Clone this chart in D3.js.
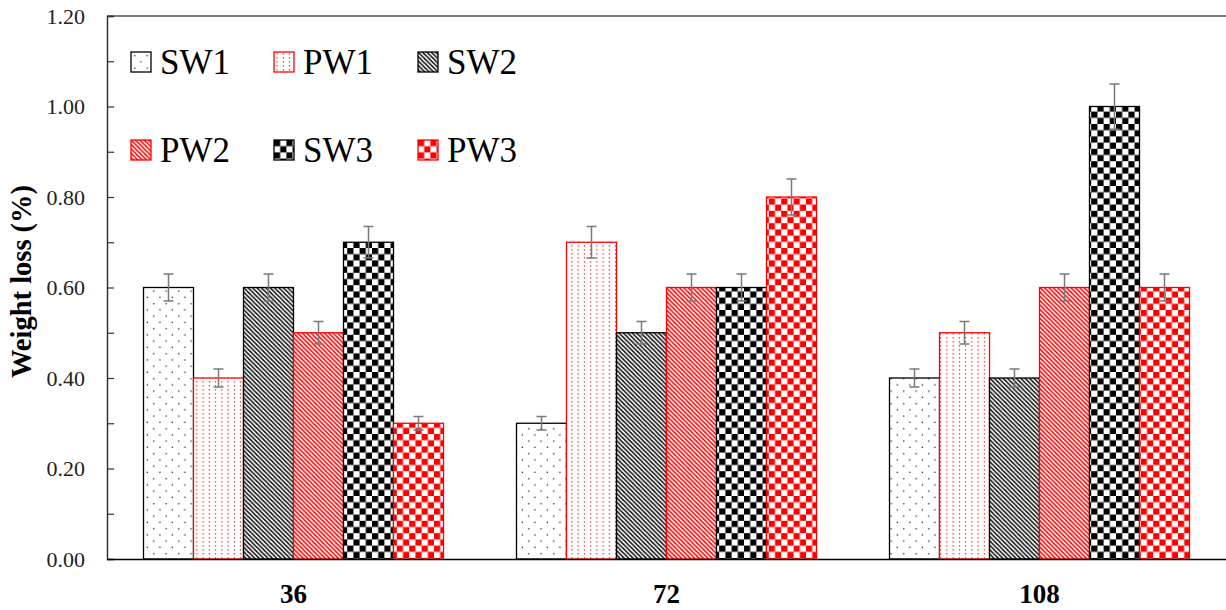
<!DOCTYPE html>
<html>
<head>
<meta charset="utf-8">
<script src="https://cdn.jsdelivr.net/npm/d3@7"></script>
<style>
  html, body { margin: 0; padding: 0; background: #fff; }
  svg { display: block; }
</style>
</head>
<body>
<svg id="chart" width="1226" height="610"></svg>
<script>
// Exposure time (h) groups
const categories = ["36", "72", "108"];
const seriesNames = ["SW1", "PW1", "SW2", "PW2", "SW3", "PW3"];

// Weight loss (%) per series, one value per time group
const SW1 = [0.60, 0.30, 0.40];
const PW1 = [0.40, 0.70, 0.50];
const SW2 = [0.60, 0.50, 0.40];
const PW2 = [0.50, 0.60, 0.60];
const SW3 = [0.70, 0.60, 1.00];
const PW3 = [0.30, 0.80, 0.60];

// Error bar half-lengths (%)
const SW1err = [0.030, 0.015, 0.020];
const PW1err = [0.020, 0.035, 0.025];
const SW2err = [0.030, 0.025, 0.020];
const PW2err = [0.025, 0.030, 0.030];
const SW3err = [0.035, 0.030, 0.050];
const PW3err = [0.015, 0.040, 0.030];

const yTickValues = [0, 0.2, 0.4, 0.6, 0.8, 1.0, 1.2];
const yMinorTicks = [0, 0.1, 0.2, 0.3, 0.4, 0.5, 0.6, 0.7, 0.8, 0.9, 1.0, 1.1, 1.2];

const values = { SW1, PW1, SW2, PW2, SW3, PW3 };
const errors = { SW1: SW1err, PW1: PW1err, SW2: SW2err, PW2: PW2err, SW3: SW3err, PW3: PW3err };

const rows = [];
categories.forEach((c, i) => {
  seriesNames.forEach(s => rows.push({ cat: c, series: s, value: values[s][i], err: errors[s][i] }));
});

const svg = d3.select("#chart");
const plotLeft = 107, plotRight = 1226, plotTop = 16, plotBottom = 559;
const serif = "\"Liberation Serif\"";

const x = d3.scaleBand().domain(categories).range([plotLeft, plotRight]).paddingInner(0.1957).paddingOuter(0.09785);
const xs = d3.scaleBand().domain(seriesNames).range([0, x.bandwidth()]);
const y = d3.scaleLinear().domain([0, 1.2]).range([plotBottom, plotTop]);

// ---- fill patterns ----
const defs = svg.append("defs");
const RED = "#ff0000";

function pat(id, w, h) {
  return defs.append("pattern").attr("id", id).attr("patternUnits", "userSpaceOnUse")
    .attr("width", w).attr("height", h);
}
// sparse black dots
let p = pat("p-SW1", 12.5, 12.5);
p.append("rect").attr("width", 12.5).attr("height", 12.5).attr("fill", "#fff");
p.append("rect").attr("x", 3).attr("y", 3).attr("width", 1.3).attr("height", 1.3).attr("fill", "#222");
p.append("rect").attr("x", 9.25).attr("y", 9.25).attr("width", 1.3).attr("height", 1.3).attr("fill", "#222");
// dense red dots
p = pat("p-PW1", 6.25, 4);
p.append("rect").attr("width", 6.25).attr("height", 4).attr("fill", "#fff");
p.append("rect").attr("x", 2.5).attr("y", 1).attr("width", 1.2).attr("height", 1.6).attr("fill", RED).attr("opacity", 0.75);
// diagonal hatching
function hatch(id, color) {
  const s = 4.4;
  const h = pat(id, s, s);
  h.append("rect").attr("width", s).attr("height", s).attr("fill", "#fff");
  h.append("path").attr("d", `M0,0L${s},${s}M${-s},0L${s},${2*s}M0,${-s}L${2*s},${s}`)
    .attr("stroke", color).attr("stroke-width", 1.5);
}
hatch("p-SW2", "#111");
hatch("p-PW2", RED);
// checkerboards
function checker(id, color) {
  const c = 6.2;
  const h = pat(id, 2 * c, 2 * c);
  h.append("rect").attr("width", 2 * c).attr("height", 2 * c).attr("fill", "#fff");
  h.append("rect").attr("width", c).attr("height", c).attr("fill", color);
  h.append("rect").attr("x", c).attr("y", c).attr("width", c).attr("height", c).attr("fill", color);
}
checker("p-SW3", "#000");
checker("p-PW3", RED);

const strokeOf = { SW1: "#000", PW1: RED, SW2: "#000", PW2: RED, SW3: "#000", PW3: RED };

// ---- bars ----
svg.append("g").selectAll("rect").data(rows).join("rect")
  .attr("x", d => x(d.cat) + xs(d.series))
  .attr("y", d => y(d.value))
  .attr("width", xs.bandwidth())
  .attr("height", d => y(0) - y(d.value))
  .attr("fill", d => `url(#p-${d.series})`)
  .attr("stroke", d => strokeOf[d.series])
  .attr("stroke-width", 1.3);

// ---- error bars ----
const eb = svg.append("g").attr("stroke", "#7a7a7a").attr("stroke-width", 1.5).attr("fill", "none");
eb.selectAll("path").data(rows).join("path")
  .attr("d", d => {
    const cx = x(d.cat) + xs(d.series) + xs.bandwidth() / 2;
    const y1 = y(d.value + d.err), y0 = y(d.value - d.err);
    return `M${cx - 5},${y1}H${cx + 5}M${cx},${y1}V${y0}M${cx - 5},${y0}H${cx + 5}`;
  });

// ---- frame and axes ----
svg.append("line").attr("x1", plotLeft).attr("x2", plotRight).attr("y1", plotTop).attr("y2", plotTop)
  .attr("stroke", "#555").attr("stroke-width", 1.5);

const yAxis = svg.append("g").attr("transform", `translate(${plotLeft},0)`)
  .call(d3.axisRight(y).tickValues(yMinorTicks).tickSize(7).tickFormat(""));
yAxis.select(".domain").attr("stroke", "#333").attr("stroke-width", 1.5);
yAxis.selectAll(".tick line").attr("stroke", "#333").attr("stroke-width", 1.2);

svg.append("g").selectAll("text").data(yTickValues).join("text")
  .attr("x", 85).attr("y", d => y(d)).attr("dy", "0.35em")
  .attr("text-anchor", "end").attr("font-size", 22).attr("fill", "#222")
  .style("font-family", serif)
  .text(d => d3.format(".2f")(d));

const xAxis = svg.append("g").attr("transform", `translate(0,${plotBottom})`)
  .call(d3.axisBottom(x).tickSize(0).tickPadding(0).tickFormat(""));
xAxis.select(".domain").attr("stroke", "#000").attr("stroke-width", 1.5);

svg.append("g").selectAll("text").data(categories).join("text")
  .attr("x", d => x(d) + x.bandwidth() / 2).attr("y", 603)
  .attr("text-anchor", "middle").attr("font-size", 27).attr("font-weight", "bold")
  .style("font-family", serif)
  .text(d => d);

svg.append("text")
  .attr("transform", `translate(31,${(plotTop + plotBottom) / 2 - 6}) rotate(-90)`)
  .attr("text-anchor", "middle").attr("font-size", 28.5).attr("font-weight", "bold")
  .style("font-family", serif)
  .text("Weight loss (%)");

// ---- legend ----
const legendCols = [131, 274, 418];
const legendRows = [52, 140];
const leg = svg.append("g").selectAll("g").data(seriesNames).join("g")
  .attr("transform", (d, i) => `translate(${legendCols[i % 3]},${legendRows[Math.floor(i / 3)]})`);
leg.append("rect").attr("width", 20).attr("height", 20)
  .attr("fill", d => `url(#p-${d})`).attr("stroke", d => strokeOf[d]).attr("stroke-width", 1.3);
leg.append("text").attr("x", 29).attr("y", 22).attr("font-size", 35)
  .style("font-family", serif)
  .text(d => d);
</script>
</body>
</html>
